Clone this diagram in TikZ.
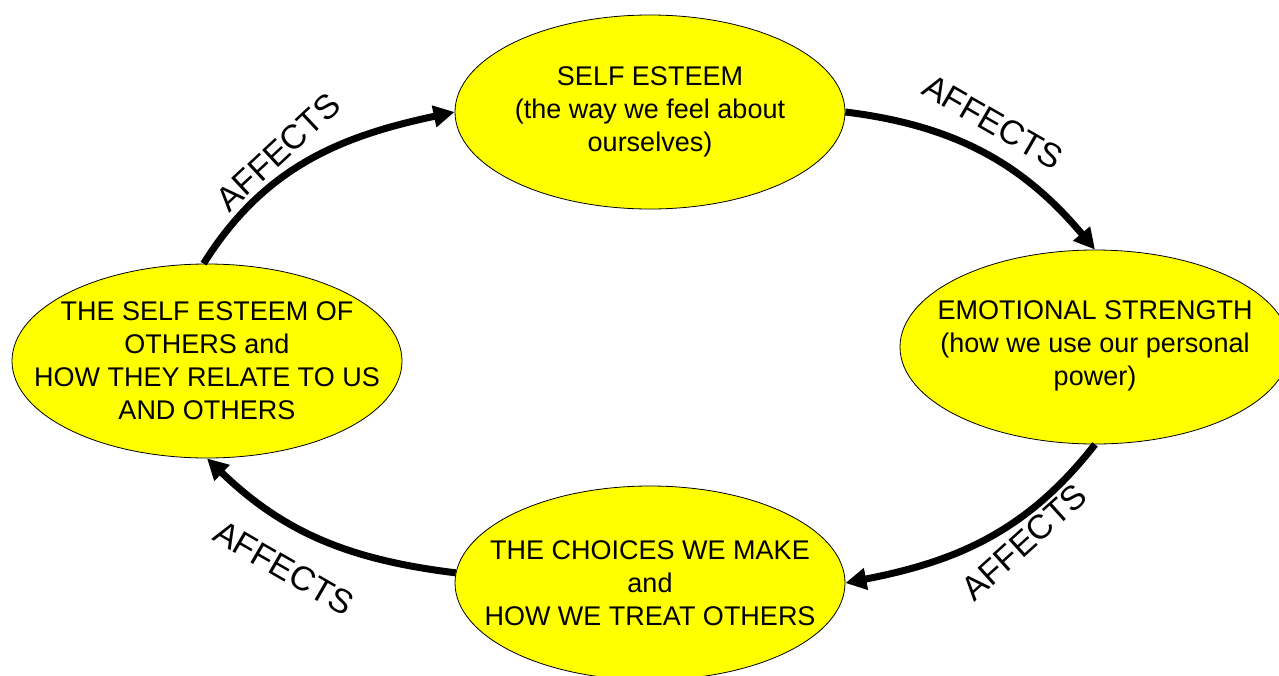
\documentclass[tikz,border=0pt]{standalone}
\usepackage{fontspec}
\setmainfont{Liberation Sans}
\usetikzlibrary{shapes.geometric,arrows.meta}
\definecolor{bubbleyellow}{RGB}{255,255,0}
\begin{document}
\begin{tikzpicture}[x=1pt,y=-1pt,
  bubble/.style={ellipse, draw=black, line width=0.8pt, fill=bubbleyellow, minimum width=390pt, minimum height=194pt, inner sep=0pt},
  btext/.style={align=center, font=\fontsize{27}{33}\selectfont, inner sep=0pt},
  flow/.style={line width=7pt, -{Triangle[length=21pt,width=21pt]}},
  lbl/.style={font=\fontsize{34}{40}\selectfont, inner sep=0pt}]
\useasboundingbox (0,0) rectangle (1279,675);
\fill[white] (0,0) rectangle (1279,675);
% ellipses
\node[bubble] (T) at (650,112) {};
\node[bubble] (R) at (1095,347) {};
\node[bubble] (B) at (650,583) {};
\node[bubble] (L) at (207,361) {};
% texts
\node[btext] (Tt) at (T.center) {SELF ESTEEM\\(the way we feel about\\ourselves)};
\node[btext] (Rt) at ([yshift=1pt]R.center) {EMOTIONAL STRENGTH\\(how we use our personal\\power)};
\node[btext] (Bt) at (B.center) {THE CHOICES WE MAKE\\and\\HOW WE TREAT OTHERS};
\node[btext] (Lt) at (L.center) {THE SELF ESTEEM OF\\OTHERS and\\HOW THEY RELATE TO US\\AND OTHERS};
% arrows
\draw[flow] (L.92) to[out=58,in=192] (T.west);
\draw[flow] (T.east) to[out=-7,in=130] (R.north);
\draw[flow] (R.south) to[out=232,in=11] (B.east);
\draw[flow] (B.177) to[out=173,in=316] (L.south);
% labels
\node[lbl, rotate=43] (a1) at (278,152) {AFFECTS};
\node[lbl, rotate=-30] (a2) at (993,122) {AFFECTS};
\node[lbl, rotate=42] (a3) at (1024,542) {AFFECTS};
\node[lbl, rotate=-30] (a4) at (284,568) {AFFECTS};
\end{tikzpicture}
\end{document}
